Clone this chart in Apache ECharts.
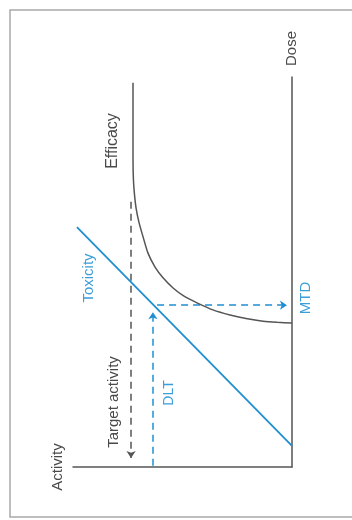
<!DOCTYPE html>
<html>
<head>
<meta charset="utf-8">
<script src="https://cdn.jsdelivr.net/npm/echarts@6/dist/echarts.min.js"></script>
<style>
html,body{margin:0;padding:0;background:#fff;}
#c{width:352px;height:520px;}
</style>
</head>
<body>
<div id="c"></div>
<script>
// Activity (horizontal axis, increasing to the left) / Dose (vertical axis, increasing upward)
const toxicityActivity = [0, 98.2];
const toxicityDose = [5.4, 61.5];

const efficacyActivity = [0, 6.8, 13.2, 21.0, 28.3, 36.1, 43.4, 49.3, 54.3, 58.9, 62.6, 65.8, 68.0, 69.9, 71.2, 71.9, 72.4, 72.6, 72.6];
const efficacyDose = [36.9, 37.1, 37.4, 38.1, 39.0, 40.3, 42.1, 43.8, 45.9, 48.5, 51.3, 54.9, 59.0, 62.8, 66.4, 69.7, 73.6, 78.7, 98.5];

const targetActivity = 73.5;
const targetDoseFromTo = [68.0, 2.3];

const dltActivity = 63.5;
const dltDoseFromTo = [0.3, 39.7];

const mtdDose = 41.5;
const mtdActivityFromTo = [61.6, 2.3];

const labels = {
  dose: 'Dose', activity: 'Activity', efficacy: 'Efficacy', toxicity: 'Toxicity',
  mtd: 'MTD', target: 'Target activity', dlt: 'DLT'
};

const BLUE = '#1f8fd0';
const BLUE_TXT = '#3c9ed8';
const GRAY = '#555555';
const TXT = '#4a4a4a';
const FONT = '"Liberation Sans", Arial, sans-serif';

const chart = echarts.init(document.getElementById('c'), null, {renderer: 'canvas'});

function zip(a, b) { return a.map((v, i) => [v, b[i]]); }

const option = {
  backgroundColor: '#ffffff',
  animation: false,
  grid: {left: 73, right: 60, top: 77, bottom: 53, containLabel: false},
  xAxis: {
    type: 'value', min: 0, max: 100, inverse: true,
    axisLine: {show: true, onZero: false, lineStyle: {color: GRAY, width: 1.5}},
    axisTick: {show: false}, axisLabel: {show: false}, splitLine: {show: false},
    name: labels.activity, nameLocation: 'end', nameRotate: 90, nameGap: 15,
    nameTextStyle: {color: TXT, fontSize: 15, fontFamily: FONT, align: 'center', verticalAlign: 'middle'}
  },
  yAxis: {
    type: 'value', min: 0, max: 100, position: 'right',
    axisLine: {show: true, onZero: false, lineStyle: {color: GRAY, width: 1.5}},
    axisTick: {show: false}, axisLabel: {show: false}, splitLine: {show: false},
    name: labels.dose, nameLocation: 'end', nameRotate: 90, nameGap: 11,
    nameTextStyle: {color: TXT, fontSize: 15, fontFamily: FONT}
  },
  series: [
    {
      type: 'line', name: 'Toxicity', data: zip(toxicityActivity, toxicityDose),
      showSymbol: false, lineStyle: {color: BLUE, width: 1.8}, silent: true
    },
    {
      type: 'line', name: 'Efficacy', data: zip(efficacyActivity, efficacyDose),
      smooth: 0.2,
      showSymbol: false, lineStyle: {color: GRAY, width: 1.5}, silent: true
    },
    {
      type: 'lines', coordinateSystem: 'cartesian2d', silent: true,
      symbol: ['none', 'arrow'], symbolSize: 7,
      lineStyle: {type: [7, 5], width: 1.5, opacity: 1},
      data: [
        {coords: [[targetActivity, targetDoseFromTo[0]], [targetActivity, targetDoseFromTo[1]]], lineStyle: {color: GRAY}},
        {coords: [[dltActivity, dltDoseFromTo[0]], [dltActivity, dltDoseFromTo[1]]], lineStyle: {color: BLUE}},
        {coords: [[mtdActivityFromTo[0], mtdDose], [mtdActivityFromTo[1], mtdDose]], lineStyle: {color: BLUE}}
      ]
    }
  ],
  graphic: [
    {type: 'rect', silent: true, shape: {x: 10, y: 10, width: 360, height: 507},
     style: {fill: 'none', stroke: '#a9a9a9', lineWidth: 1.5}},
    {type: 'text', x: 112.5, y: 141, rotation: Math.PI / 2,
     style: {text: labels.efficacy, fill: TXT, font: '16px ' + FONT, align: 'center', verticalAlign: 'middle'}},
    {type: 'text', x: 88.5, y: 278, rotation: Math.PI / 2,
     style: {text: labels.toxicity, fill: BLUE_TXT, font: '15px ' + FONT, align: 'center', verticalAlign: 'middle'}},
    {type: 'text', x: 306, y: 298, rotation: Math.PI / 2,
     style: {text: labels.mtd, fill: BLUE_TXT, font: '15px ' + FONT, align: 'center', verticalAlign: 'middle'}},
    {type: 'text', x: 114, y: 402, rotation: Math.PI / 2,
     style: {text: labels.target, fill: TXT, font: '15px ' + FONT, align: 'center', verticalAlign: 'middle'}},
    {type: 'text', x: 169, y: 393, rotation: Math.PI / 2,
     style: {text: labels.dlt, fill: BLUE_TXT, font: '14px ' + FONT, align: 'center', verticalAlign: 'middle'}}
  ]
};

chart.setOption(option);
</script>
</body>
</html>
